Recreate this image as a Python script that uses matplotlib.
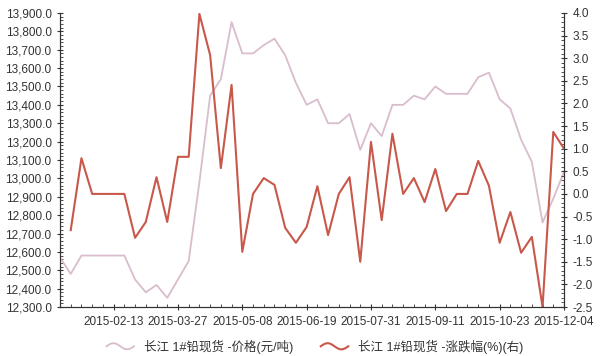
import matplotlib
matplotlib.use('Agg')
import matplotlib.pyplot as plt
import matplotlib.dates as mdates
from matplotlib.legend_handler import HandlerBase
from matplotlib.lines import Line2D
from matplotlib.ticker import MultipleLocator, FuncFormatter
import numpy as np
import pandas as pd

plt.rcParams['font.family'] = ['Liberation Sans', 'Noto Sans CJK SC', 'DejaVu Sans']

# weekly dates, first to last
dates = pd.date_range('2015-01-09', '2015-12-04', freq='W-FRI')

price = [12570, 12480, 12580, 12580, 12580, 12580, 12580, 12450, 12380, 12420,
         12350, 12450, 12550, 12980, 13450, 13540, 13850, 13680, 13680, 13725,
         13760, 13670, 13520, 13400, 13430, 13300, 13300, 13350, 13155, 13300,
         13230, 13400, 13400, 13450, 13430, 13500, 13460, 13460, 13460, 13550,
         13575, 13430, 13380, 13210, 13090, 12760, 12890, 13035]

change = [np.nan, -0.80, 0.79, 0.0, 0.0, 0.0, 0.0, -0.97, -0.62, 0.37,
          -0.62, 0.82, 0.82, 3.98, 3.07, 0.57, 2.41, -1.28, 0.0, 0.35,
          0.20, -0.75, -1.08, -0.73, 0.17, -0.91, 0.0, 0.37, -1.50, 1.15,
          -0.58, 1.33, 0.0, 0.35, -0.18, 0.55, -0.38, 0.0, 0.0, 0.73,
          0.18, -1.08, -0.40, -1.30, -0.95, -2.50, 1.37, 1.00]

label_price = '长江 1#铅现货 -价格(元/吨)'
label_change = '长江 1#铅现货 -涨跌幅(%)(右)'

c_price = '#d9bccd'
c_change = '#c8584a'
axis_col = '#333333'


class WaveHandler(HandlerBase):
    def create_artists(self, legend, orig_handle, xdescent, ydescent,
                       width, height, fontsize, trans):
        xs = np.linspace(0, width, 30)
        ys = height / 2 + height * 0.35 * np.sin(xs / width * 2 * np.pi)
        ln = Line2D(xs - xdescent, ys - ydescent, color=orig_handle.get_color(),
                    lw=orig_handle.get_linewidth(), transform=trans)
        return [ln]


fig = plt.figure(figsize=(6, 3.56), dpi=100)
ax = fig.add_axes([0.1, 0.1376, 0.84, 0.826])
ax2 = ax.twinx()

l1, = ax.plot(dates, price, color=c_price, lw=1.3)
l2, = ax2.plot(dates, change, color=c_change, lw=1.5)

ax.set_xlim(dates[0], dates[-1])
ax.set_ylim(12300, 13900)
ax2.set_ylim(-2.5, 4.0)

ax.yaxis.set_major_locator(MultipleLocator(100))
ax.yaxis.set_minor_locator(MultipleLocator(20))
ax.yaxis.set_major_formatter(FuncFormatter(lambda v, p: '{:,.1f}'.format(v)))
ax2.yaxis.set_major_locator(MultipleLocator(0.5))
ax2.yaxis.set_minor_locator(MultipleLocator(0.1))
ax2.yaxis.set_major_formatter(FuncFormatter(lambda v, p: '{:.1f}'.format(v)))

ax.set_xticks(dates[5::6])
ax.set_xticks(dates, minor=True)
ax.xaxis.set_major_formatter(mdates.DateFormatter('%Y-%m-%d'))

for a in (ax, ax2):
    a.spines['top'].set_visible(False)
    for s in ('left', 'right', 'bottom'):
        a.spines[s].set_color(axis_col)
        a.spines[s].set_linewidth(0.8)
    a.tick_params(which='major', direction='inout', length=5, width=0.8,
                  color=axis_col, labelcolor=axis_col, labelsize=8.5)
    a.tick_params(which='minor', direction='in', length=2.5, width=0.6,
                  color=axis_col)
ax.tick_params(axis='x', which='major', labelsize=8.5, pad=4)

fig.legend([l1, l2], [label_price, label_change], loc='lower center',
           bbox_to_anchor=(0.525, -0.025), ncol=2, frameon=False, fontsize=9,
           handler_map={Line2D: WaveHandler()}, handlelength=2.2,
           columnspacing=2.2, labelcolor=axis_col)

fig.savefig('out.png', dpi=100)
